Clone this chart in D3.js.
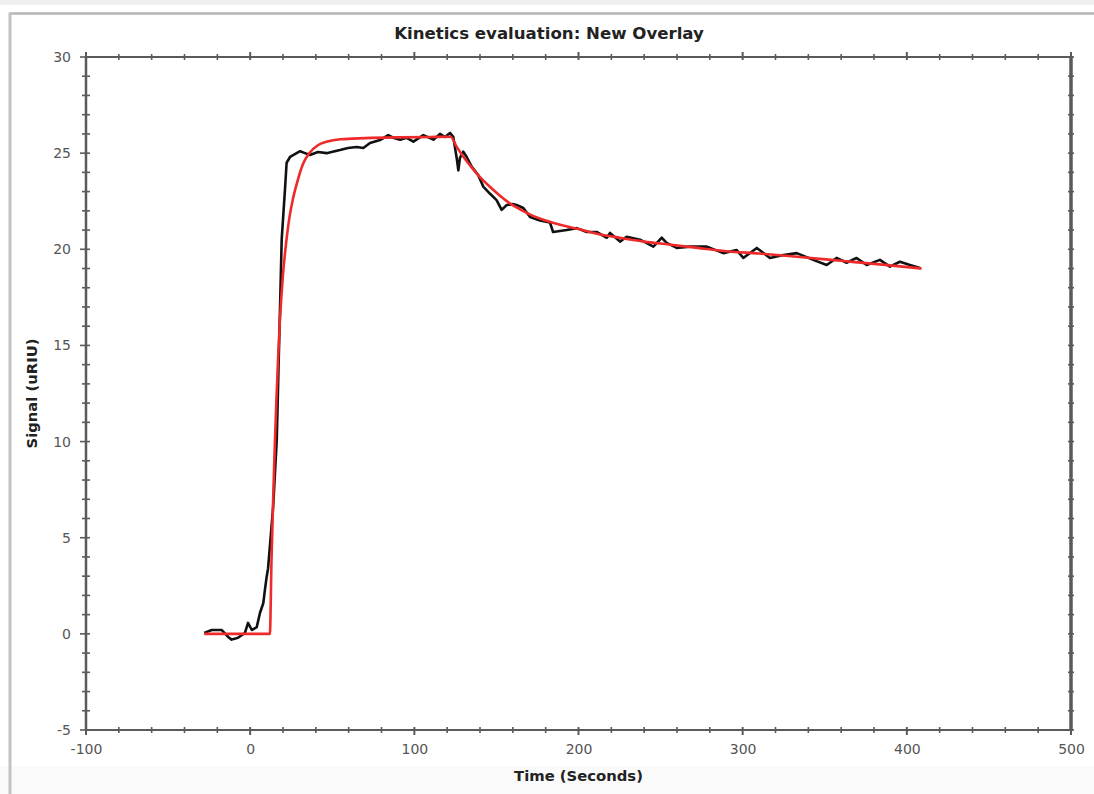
<!DOCTYPE html>
<html><head><meta charset="utf-8">
<script src="https://cdn.jsdelivr.net/npm/d3@7"></script>
<style>
html,body{margin:0;padding:0;background:#fff;}
svg{display:block;font-family:"DejaVu Sans",Verdana,sans-serif;}
</style></head>
<body>
<svg id="chart" width="1094" height="794"></svg>
<script>
// ---- data (time in seconds, signal in uRIU) ----
const chartTitle = "Kinetics evaluation: New Overlay";
const xLabel = "Time (Seconds)";
const yLabel = "Signal (uRIU)";
const xTickValues = [-100, 0, 100, 200, 300, 400, 500];
const yTickValues = [-5, 0, 5, 10, 15, 20, 25, 30];

const measuredTime = [-28,-23.4,-17.3,-13.4,-11.3,-7.4,-3.2,-1.3,1,4,6,8,9,10.1,10.9,14,16.2,17.2,18.2,19.2,21.2,22.2,24.3,28.3,30.4,33.4,36.4,41.3,46.6,49.6,54.7,59.6,64.9,68.9,73,79.1,84.1,87.2,91.3,95.4,99.4,105.5,111.6,115.6,118.7,121.7,123.7,125.8,126.8,127.8,129.8,131.9,134.9,138.9,142,146,150.1,153.2,156.2,160,162.3,166.4,170.5,176.5,182.6,184.5,188.7,192.8,198.9,205,211,217.2,219.2,225.3,229.3,237.5,245.6,250.7,253.7,259.8,268,278.2,288.2,296.4,300.4,308.6,316.6,324.8,332.9,343,351.2,357.2,363.3,369.4,375.5,383.6,389.7,395.8,401.9,408];
const measuredSignal = [0.05,0.2,0.2,-0.16,-0.3,-0.2,0.05,0.57,0.2,0.35,1.1,1.6,2.3,3.0,3.4,6.6,10.1,13.6,17.0,20.5,23.1,24.5,24.8,25.0,25.1,25.0,24.9,25.06,25.0,25.06,25.16,25.27,25.32,25.27,25.53,25.68,25.94,25.8,25.7,25.8,25.6,25.94,25.7,26.0,25.84,26.05,25.85,24.75,24.1,24.75,25.08,24.8,24.3,23.86,23.26,22.9,22.56,22.05,22.3,22.35,22.3,22.15,21.68,21.5,21.4,20.9,20.95,21.0,21.1,20.9,20.9,20.6,20.85,20.4,20.65,20.5,20.14,20.6,20.33,20.07,20.14,20.14,19.8,19.96,19.55,20.07,19.55,19.7,19.8,19.45,19.18,19.55,19.3,19.55,19.18,19.45,19.1,19.35,19.18,19.03];

const fitTime = [-28,12,13,14,15,16,17,18,20,22,24,26,29,32,36,41,47,55,70,90,110,122,126,130,135,140,146,152,158,165,172,180,190,200,212,225,240,255,270,290,310,335,360,385,409];
const fitSignal = [0,0,3.8,7.0,9.8,12.2,14.3,16.1,18.7,20.4,21.7,22.6,23.6,24.4,25.0,25.4,25.6,25.72,25.78,25.82,25.84,25.85,25.3,24.8,24.25,23.75,23.25,22.8,22.4,22.05,21.75,21.5,21.25,21.05,20.8,20.6,20.4,20.25,20.1,19.9,19.78,19.6,19.4,19.2,19.0];

// ---- layout ----
const svg = d3.select("#chart");
const W = 1094, H = 794;
const plot = {left: 86, right: 1071, top: 57, bottom: 730};

// window chrome
svg.append("rect").attr("x",0).attr("y",0).attr("width",W).attr("height",H).attr("fill","#fff");
svg.append("rect").attr("x",0).attr("y",0).attr("width",W).attr("height",5).attr("fill","#efefef");
svg.append("rect").attr("x",0).attr("y",766).attr("width",W).attr("height",H-766).attr("fill","#fafafa");
svg.append("line").attr("x1",9).attr("x2",W).attr("y1",13.5).attr("y2",13.5).attr("stroke","#b4b4b4").attr("stroke-width",2.5);
svg.append("line").attr("x1",10).attr("x2",10).attr("y1",13).attr("y2",H).attr("stroke","#c2c2c2").attr("stroke-width",3);

const x = d3.scaleLinear().domain([-100,500]).range([plot.left, plot.right]);
const y = d3.scaleLinear().domain([-5,30]).range([plot.bottom, plot.top]);

const axisColor = "#5a5a5a";
const labelColor = "#555";

// minor ticks (crossing the axes)
const xMinor = d3.range(-100, 501, 20);
const yMinor = d3.range(-5, 31, 1);
const g = svg.append("g");

function tickMark(x1,y1,x2,y2,w){
  g.append("line").attr("x1",x1).attr("y1",y1).attr("x2",x2).attr("y2",y2)
   .attr("stroke",axisColor).attr("stroke-width",w);
}
xMinor.forEach(v=>{
  const major = v % 100 === 0;
  const px = x(v);
  tickMark(px, plot.bottom-3, px, plot.bottom+(major?5:3), major?2:1.6);
  tickMark(px, plot.top-(major?5:3), px, plot.top+3, major?2:1.6);
});
yMinor.forEach(v=>{
  const major = v % 5 === 0;
  const py = y(v);
  tickMark(plot.left-(major?6:4), py, plot.left+4, py, 1.6);
  tickMark(plot.right-3, py, plot.right+3, py, 1.6);
});

// frame
g.append("line").attr("x1",plot.left).attr("x2",plot.right).attr("y1",plot.top).attr("y2",plot.top).attr("stroke",axisColor).attr("stroke-width",2);
g.append("line").attr("x1",plot.left).attr("x2",plot.right).attr("y1",plot.bottom).attr("y2",plot.bottom).attr("stroke",axisColor).attr("stroke-width",2);
g.append("line").attr("x1",plot.left).attr("x2",plot.left).attr("y1",plot.top).attr("y2",plot.bottom).attr("stroke",axisColor).attr("stroke-width",2.5);
g.append("line").attr("x1",plot.right).attr("x2",plot.right).attr("y1",plot.top-1).attr("y2",plot.bottom+1).attr("stroke",axisColor).attr("stroke-width",3.5);

// tick labels via d3 axes (domain/ticks hidden)
const fmt = d => String(d);
const xAxis = d3.axisBottom(x).tickValues(xTickValues).tickSize(0).tickPadding(14).tickFormat(fmt);
const yAxis = d3.axisLeft(y).tickValues(yTickValues).tickSize(0).tickPadding(15).tickFormat(fmt);
const gx = svg.append("g").attr("transform",`translate(0,${plot.bottom})`).call(xAxis);
const gy = svg.append("g").attr("transform",`translate(${plot.left},0)`).call(yAxis);
[gx,gy].forEach(a=>{
  a.select(".domain").remove();
  a.selectAll("text").attr("fill",labelColor).attr("font-size",14)
   .attr("font-family","'DejaVu Sans',Verdana,sans-serif");
});

// data lines
const line = d3.line().x(d=>x(d[0])).y(d=>y(d[1]));
const measured = measuredTime.map((t,i)=>[t, measuredSignal[i]]);
const fit = fitTime.map((t,i)=>[t, fitSignal[i]]);

svg.append("path").datum(measured).attr("d", line.curve(d3.curveLinear))
  .attr("fill","none").attr("stroke","#111").attr("stroke-width",2.6).attr("stroke-linejoin","round");
svg.append("path").datum(fit).attr("d", d3.line().x(d=>x(d[0])).y(d=>y(d[1])).curve(d3.curveMonotoneX))
  .attr("fill","none").attr("stroke","#ee2a2a").attr("stroke-width",2.6).attr("stroke-linejoin","round");

// titles
svg.append("text").attr("x",549).attr("y",39).attr("text-anchor","middle")
  .attr("font-size",16.6).attr("font-weight","bold").attr("fill","#222").text(chartTitle);
svg.append("text").attr("x",(plot.left+plot.right)/2).attr("y",781).attr("text-anchor","middle")
  .attr("font-size",14.8).attr("font-weight","bold").attr("fill","#222").text(xLabel);
svg.append("text").attr("transform",`translate(37,${(plot.top+plot.bottom)/2}) rotate(-90)`).attr("text-anchor","middle")
  .attr("font-size",14.8).attr("font-weight","bold").attr("fill","#222").text(yLabel);
</script>
</body></html>
